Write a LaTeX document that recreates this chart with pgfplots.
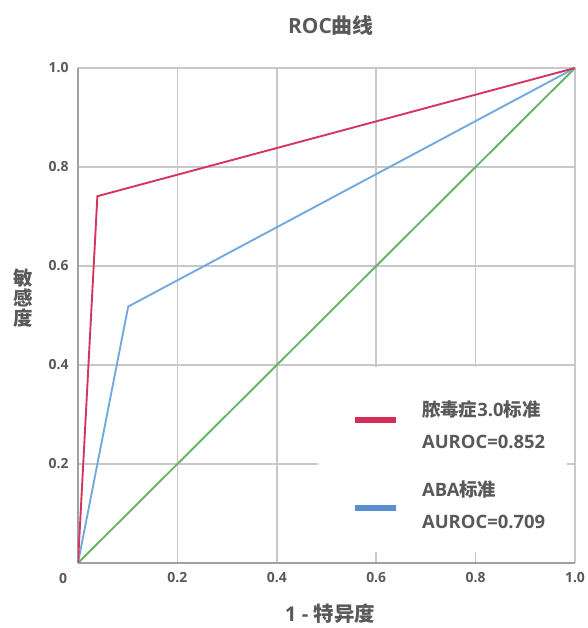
\documentclass[border=0pt]{standalone}
\usepackage{fontspec}
\setmainfont{Open Sans}
\newfontfamily\cjk{Noto Sans CJK SC Bold}
\newcommand\cj[1]{{\cjk #1}}
\usepackage{pgfplots}
\pgfplotsset{compat=1.18}
\definecolor{txt}{HTML}{595959}
\definecolor{gridc}{HTML}{C8C8C8}
\definecolor{axc}{HTML}{A0A0A0}
\definecolor{rocred}{HTML}{D4365E}
\definecolor{rocblue}{HTML}{72AADF}
\definecolor{rocgreen}{HTML}{64B464}
\definecolor{legred}{HTML}{D12F58}
\definecolor{legblue}{HTML}{5B8FD0}
\begin{document}
\begin{tikzpicture}
\path[use as bounding box] (-78bp,-65bp) rectangle (510bp,563bp);
\begin{axis}[
  at={(0,0)}, anchor=south west,
  width=497bp, height=495bp, scale only axis,
  xmin=0, xmax=1, ymin=0, ymax=1,
  xtick={0.2,0.4,0.6,0.8,1}, xticklabels={0.2,0.4,0.6,0.8,1.0},
  ytick={0.2,0.4,0.6,0.8,1}, yticklabels={0.2,0.4,0.6,0.8,1.0},
  major tick length=0,
  grid=major, grid style={gridc, line width=1.5bp},
  axis x line*=bottom, axis y line*=left,
  axis line style={axc, line width=1.6bp, -},
  ticklabel style={font=\fontsize{14}{16}\selectfont\bfseries, text=txt},
  xticklabel style={yshift=-6bp},
  yticklabel style={xshift=-6bp},
  title={ROC\cj{曲线}},
  title style={at={(axis description cs:0.509,1.073)}, anchor=center,
    font=\fontsize{21}{24}\selectfont\bfseries, text=txt},
  xlabel={1 - \cj{特异度}},
  xlabel style={at={(axis description cs:0.507,-0.103)}, anchor=center,
    font=\fontsize{20.5}{22}\selectfont\bfseries, text=txt},
  ylabel={\cj{敏}\\\cj{感}\\\cj{度}},
  ylabel style={at={(axis description cs:-0.111,0.535)}, anchor=center, rotate=-90,
    align=center, font=\fontsize{19.5}{20}\selectfont\bfseries, text=txt},
  reverse legend,
  legend style={at={(axis cs:0.551,0.332)}, anchor=north west, draw=none, fill=none,
    inner sep=0pt, font=\fontsize{18.5}{32}\selectfont\bfseries, text=txt,
    row sep=27bp, cells={anchor=west, align=left},
    /tikz/every odd column/.append style={column sep=21bp}},
]
\addplot[rocgreen, line width=1.9bp, forget plot] coordinates {(0,0) (1,1)};
\addplot[rocblue, line width=1.9bp,
  legend image code/.code={\draw[legblue, line width=6bp] (0bp,-2bp) -- (41bp,-2bp);}]
  coordinates {(0,0) (0.101,0.518) (1,1)};
\addlegendentry{ABA\cj{标准}\\AUROC=0.709}
\addplot[rocred, line width=1.9bp,
  legend image code/.code={\draw[legred, line width=6bp] (0bp,5bp) -- (41bp,5bp);}]
  coordinates {(0,0) (0.039,0.741) (1,1)};
\addlegendentry{\cj{脓毒症}3.0\cj{标准}\\AUROC=0.852}
\fill[white] (axis cs:0.483,0.022) rectangle (axis cs:0.984,0.396);
\end{axis}
\node[font=\fontsize{14}{16}\selectfont\bfseries, text=txt] at (-15bp,-16bp) {0};
\end{tikzpicture}
\end{document}
